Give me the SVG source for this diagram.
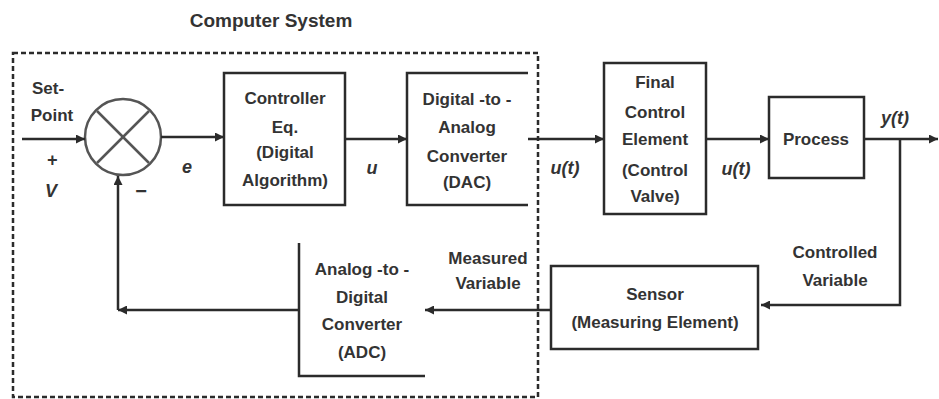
<svg xmlns="http://www.w3.org/2000/svg" width="939" height="399" viewBox="0 0 939 399">
<defs>
<marker id="ah" viewBox="0 0 10 10" refX="10" refY="5" markerWidth="9" markerHeight="9" markerUnits="userSpaceOnUse" orient="auto">
<path d="M0,0 L10,5 L0,10 z" fill="#2b2b2b"/>
</marker>
<style>
.box{fill:none;stroke:#2b2b2b;stroke-width:2.5}
.ln{fill:none;stroke:#2b2b2b;stroke-width:2.5}
.cn{fill:none;stroke:#2b2b2b;stroke-width:2.5;marker-end:url(#ah)}
.t{font-family:"Liberation Sans",Arial,sans-serif;font-weight:bold;font-size:17px;fill:#333;text-anchor:middle}
.v{font-family:"Liberation Sans",Arial,sans-serif;font-weight:bold;font-style:italic;font-size:18px;fill:#333;text-anchor:middle}
</style>
</defs>
<rect width="939" height="399" fill="#fff"/>
<g id="computer-system">
<rect x="13" y="53" width="525" height="344" fill="none" stroke="#2b2b2b" stroke-width="2.5" stroke-dasharray="5,3"/>
<text class="t" x="271" y="27" style="font-size:19px">Computer System</text>
</g>
<g id="summing-junction">
<circle cx="123" cy="137" r="38" fill="none" stroke="#555" stroke-width="2.5"/>
<line x1="97" y1="111" x2="149" y2="163" stroke="#555" stroke-width="2.5"/>
<line x1="149" y1="111" x2="97" y2="163" stroke="#555" stroke-width="2.5"/>
</g>
<g id="controller">
<rect class="box" x="224" y="73" width="121" height="132"/>
<text class="t" x="285" y="104">Controller</text>
<text class="t" x="285" y="133">Eq.</text>
<text class="t" x="285" y="158">(Digital</text>
<text class="t" x="285" y="186">Algorithm)</text>
</g>
<g id="dac">
<path class="ln" d="M528,73 H407 V205 H528"/>
<text class="t" x="467" y="105">Digital -to -</text>
<text class="t" x="467" y="133">Analog</text>
<text class="t" x="467" y="162">Converter</text>
<text class="t" x="467" y="188">(DAC)</text>
</g>
<g id="final-control-element">
<rect class="box" x="604" y="63" width="102" height="151"/>
<text class="t" x="655" y="88">Final</text>
<text class="t" x="655" y="118">Control</text>
<text class="t" x="655" y="145">Element</text>
<text class="t" x="655" y="176">(Control</text>
<text class="t" x="655" y="202">Valve)</text>
</g>
<g id="process">
<rect class="box" x="769" y="97" width="95" height="81"/>
<text class="t" x="816" y="145">Process</text>
</g>
<g id="sensor">
<rect class="box" x="551" y="266" width="207" height="83"/>
<text class="t" x="655" y="300">Sensor</text>
<text class="t" x="655" y="328">(Measuring Element)</text>
</g>
<g id="adc">
<path class="ln" d="M299,243 V376 H425"/>
<text class="t" x="362" y="275">Analog -to -</text>
<text class="t" x="362" y="303">Digital</text>
<text class="t" x="362" y="330">Converter</text>
<text class="t" x="362" y="358">(ADC)</text>
</g>
<g id="connectors">
<line class="cn" x1="22" y1="139" x2="85" y2="139"/>
<line class="cn" x1="161" y1="137" x2="224" y2="137"/>
<line class="cn" x1="345" y1="139" x2="407" y2="139"/>
<line class="cn" x1="528" y1="139" x2="604" y2="139"/>
<line class="cn" x1="706" y1="139" x2="769" y2="139"/>
<line class="cn" x1="864" y1="139" x2="938" y2="139"/>
<polyline class="cn" points="900,139 900,305 761,305"/>
<line class="cn" x1="551" y1="310" x2="425" y2="310"/>
<line class="cn" x1="299" y1="310" x2="118" y2="310"/>
<line class="cn" x1="118" y1="310" x2="118" y2="176"/>
</g>
<g id="labels">
<text class="t" x="48" y="94">Set-</text>
<text class="t" x="52" y="121">Point</text>
<text class="v" x="52" y="166">+</text>
<text class="v" x="51" y="197">V</text>
<text class="t" x="141" y="198" style="font-size:20px">−</text>
<text class="v" x="187" y="173">e</text>
<text class="v" x="372" y="174">u</text>
<text class="v" x="565" y="174">u(t)</text>
<text class="v" x="736" y="175">u(t)</text>
<text class="v" x="895" y="124">y(t)</text>
<text class="t" x="835" y="258">Controlled</text>
<text class="t" x="835" y="286">Variable</text>
<text class="t" x="488" y="264">Measured</text>
<text class="t" x="488" y="289">Variable</text>
</g>
</svg>
